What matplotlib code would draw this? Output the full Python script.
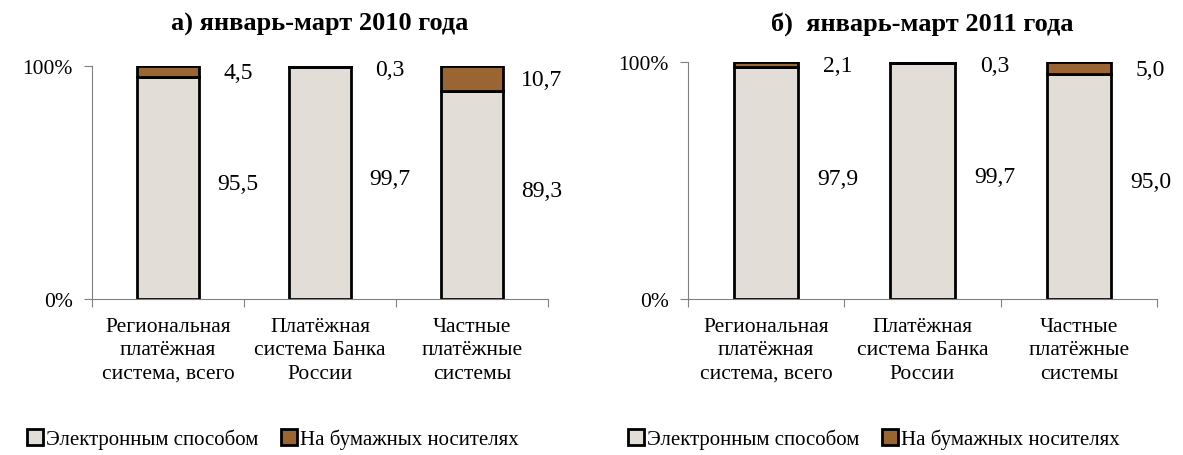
import numpy as np
import matplotlib
matplotlib.use("Agg")
import matplotlib.pyplot as plt

plt.rcParams['font.family'] = ['Liberation Serif', 'DejaVu Serif']

categories = ["Региональная\nплатёжная\nсистема, всего",
              "Платёжная\nсистема Банка\nРоссии",
              "Частные\nплатёжные\nсистемы"]
titles = ["а) январь-март 2010 года", "б)  январь-март 2011 года"]
electronic_2010 = [95.5, 99.7, 89.3]
paper_2010 = [4.5, 0.3, 10.7]
electronic_2011 = [97.9, 99.7, 95.0]
paper_2011 = [2.1, 0.3, 5.0]
legend_labels = ["Электронным способом", "На бумажных носителях"]

c_el = "#E3DDD7"
c_pa = "#996633"


def fmt(v):
    return ("%.1f" % v).replace(".", ",")


def draw_panel(ax, el, pa, title, leg_x):
    x = np.arange(len(categories)) + 0.5
    w = 0.41
    b1 = ax.bar(x, el, w, color=c_el, edgecolor="black", linewidth=2.0, label=legend_labels[0])
    b2 = ax.bar(x, pa, w, bottom=el, color=c_pa, edgecolor="black", linewidth=2.0, label=legend_labels[1])
    for xi, e, p in zip(x, el, pa):
        ax.text(xi + 0.46, e / 2 + 2, fmt(e), fontsize=17, ha="center", va="center")
        ax.text(xi + 0.46, min(100 - p / 2 - 0.5, 98.7), fmt(p), fontsize=17, ha="center", va="center")
    ax.set_xlim(0, 3)
    ax.set_ylim(0, 100)
    ax.set_xticks([0, 1, 2, 3])
    ax.set_xticklabels([])
    ax.set_xticks(x, minor=True)
    ax.set_xticklabels(categories, minor=True, fontsize=15.5, linespacing=1.3)
    ax.tick_params(axis="x", which="minor", length=0, pad=13)
    ax.tick_params(axis="x", which="major", length=6, color="#808080", direction="out")
    ax.set_yticks([0, 100])
    ax.set_yticklabels(["0%", "100%"], fontsize=15.5)
    ax.tick_params(axis="y", length=6, color="#808080", direction="out", pad=8)
    for s in ["top", "right"]:
        ax.spines[s].set_visible(False)
    for s in ["left", "bottom"]:
        ax.spines[s].set_color("#808080")
    fig.legend(handles=[b1, b2], loc="center left", bbox_to_anchor=(leg_x, 1 - 440 / 456),
               ncol=2, frameon=False, fontsize=15, handlelength=0.75, handleheight=0.75,
               handletextpad=0.15, columnspacing=1.1, borderaxespad=0, borderpad=0)
    pos = ax.get_position()
    fig.text((pos.x0 + pos.x1) / 2, 1 - 24 / 456, title, ha="center", va="center",
             fontsize=19, fontweight="bold")


fig = plt.figure(figsize=(11.83, 4.56), dpi=100)
ax1 = fig.add_axes([0.0778, 0.342, 0.3855, 0.511])
ax2 = fig.add_axes([0.5816, 0.342, 0.3964, 0.520])
draw_panel(ax1, electronic_2010, paper_2010, titles[0], 27 / 1183)
draw_panel(ax2, electronic_2011, paper_2011, titles[1], 628 / 1183)

fig.savefig("out.png", dpi=100)
